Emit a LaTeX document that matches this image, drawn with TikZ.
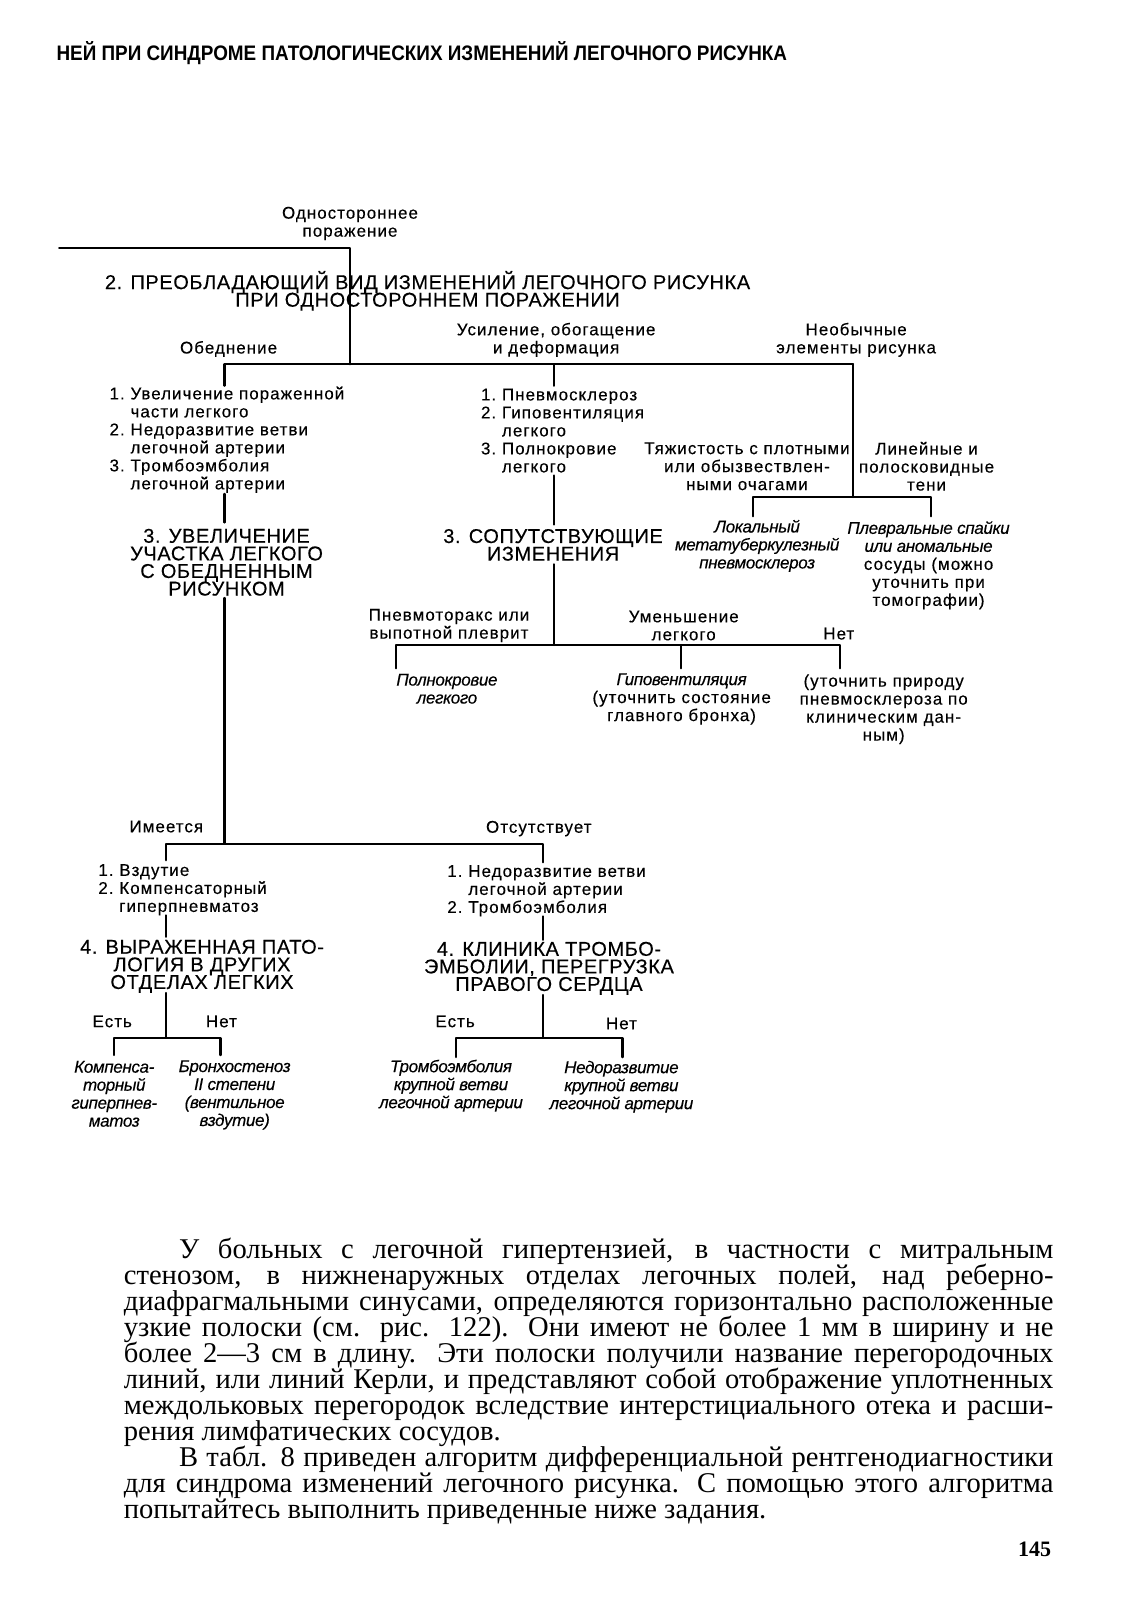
\documentclass[tikz,border=0pt]{standalone}
\usepackage{fontspec}
\setmainfont[LetterSpace=6,FakeBold=0.3,ItalicFeatures={LetterSpace=-2}]{Liberation Sans}
\newfontfamily\headfont[LetterSpace=3,FakeBold=0.3]{Liberation Sans}
\newfontfamily\runfont[FakeStretch=0.9]{Liberation Sans}
\newfontfamily\bodyfont[FakeStretch=1.0]{Liberation Serif}
\newcommand\dgfont{\fontsize{8.5}{9}\selectfont}
\newcommand\hdfont{\fontsize{10}{8.8}\headfont}
\newlength\bodyw
\setlength\bodyw{465pt}
\setlength\lineskiplimit{-20pt}
\newcommand\jline[1]{\makebox[\bodyw][s]{#1}}
\newcommand\lastjl[1]{\makebox[\bodyw][l]{#1}}

\begin{document}
\begin{tikzpicture}[x=0.5104pt,y=-0.5104pt,line cap=round,line join=round,
  ln/.style={line width=1.1pt},
  lbl/.style={font=\dgfont,align=center,inner sep=0pt},
  itl/.style={font=\dgfont\itshape,align=center,inner sep=0pt},
  lst/.style={font=\dgfont,align=left,inner sep=0pt,anchor=west},
  hd/.style={font=\hdfont,align=center,inner sep=0pt}]
\useasboundingbox (0,0) rectangle (1109,1568);

% running head
\node[font=\fontsize{10.5}{12}\runfont\bfseries,anchor=west,inner sep=0pt] (run) at (55,52) {НЕЙ ПРИ СИНДРОМЕ ПАТОЛОГИЧЕСКИХ ИЗМЕНЕНИЙ ЛЕГОЧНОГО РИСУНКА};

% junctions
\coordinate (top0) at (58,243);
\coordinate (top1) at (343,243);
\coordinate (r0) at (343,357);
\coordinate (r1) at (220,357);
\coordinate (r2) at (543,357);
\coordinate (r3) at (836,357);
\coordinate (a0) at (220,378);
\coordinate (a1) at (220,484);
\coordinate (a2) at (220,512);
\coordinate (a3) at (220,586);
\coordinate (b0) at (543,378);
\coordinate (b1) at (543,466);
\coordinate (b2) at (543,514);
\coordinate (b3) at (543,553);
\coordinate (c0) at (836,487);
\coordinate (c1) at (738,487);
\coordinate (c2) at (912,487);
\coordinate (c1d) at (738,506);
\coordinate (c2d) at (912,506);
\coordinate (e0) at (543,632);
\coordinate (e1) at (388,632);
\coordinate (e2) at (667,632);
\coordinate (e3) at (823,632);
\coordinate (e1d) at (388,655);
\coordinate (e2d) at (667,655);
\coordinate (e3d) at (823,655);
\coordinate (d0) at (220,827);
\coordinate (d1) at (163,827);
\coordinate (d2) at (532,827);
\coordinate (d1d) at (163,843);
\coordinate (d2d) at (532,845);
\coordinate (f0) at (163,897);
\coordinate (f1) at (163,918);
\coordinate (f2) at (163,973);
\coordinate (f3) at (163,1017);
\coordinate (f4) at (112,1017);
\coordinate (f5) at (216,1017);
\coordinate (f4d) at (112,1034);
\coordinate (f5d) at (216,1034);
\coordinate (g0) at (532,898);
\coordinate (g1) at (532,921);
\coordinate (g2) at (532,975);
\coordinate (g3) at (532,1017);
\coordinate (g4) at (447,1017);
\coordinate (g5) at (610,1017);
\coordinate (g4d) at (447,1036);
\coordinate (g5d) at (610,1036);

% lines
\draw[ln] (top0) -- (top1) -- (r0);
\draw[ln] (r1) -- (r3);
\draw[ln] (r1) -- (a0);
\draw[ln] (r2) -- (b0);
\draw[ln] (r3) -- (c0);
\draw[ln] (c1d) -- (c1) -- (c2) -- (c2d);
\draw[ln] (a1) -- (a2);
\draw[ln] (a3) -- (d0);
\draw[ln] (b1) -- (b2);
\draw[ln] (b3) -- (e0);
\draw[ln] (e1d) -- (e1) -- (e3) -- (e3d);
\draw[ln] (e2) -- (e2d);
\draw[ln] (d1d) -- (d1) -- (d2) -- (d2d);
\draw[ln] (f0) -- (f1);
\draw[ln] (f2) -- (f3);
\draw[ln] (f4d) -- (f4) -- (f5) -- (f5d);
\draw[ln] (g0) -- (g1);
\draw[ln] (g2) -- (g3);
\draw[ln] (g4d) -- (g4) -- (g5) -- (g5d);

% upper level
\node[lbl] (one) at (343,219) {Одностороннее\\поражение};
\node[hd] (hd2) at (419,285) {2. ПРЕОБЛАДАЮЩИЙ ВИД ИЗМЕНЕНИЙ ЛЕГОЧНОГО РИСУНКА\\ПРИ ОДНОСТОРОННЕМ ПОРАЖЕНИИ};
\node[lbl] (obed) at (224,342) {Обеднение};
\node[lbl] (usil) at (545,333) {Усиление, обогащение\\и деформация};
\node[lbl] (neob) at (839,333) {Необычные\\элементы рисунка};

% three columns
\node[lst] (lstL) at (107,431) {1.~Увеличение пораженной\\\phantom{1.~}части легкого\\2.~Недоразвитие ветви\\\phantom{2.~}легочной артерии\\3.~Тромбоэмболия\\\phantom{3.~}легочной артерии};
\node[lst] (lstM) at (471,422) {1.~Пневмосклероз\\2.~Гиповентиляция\\\phantom{2.~}легкого\\3.~Полнокровие\\\phantom{3.~}легкого};
\node[lbl] (tyazh) at (732,457) {Тяжистость с плотными\\или обызвествлен-\\ными очагами};
\node[lbl] (lin) at (908,457) {Линейные и\\полосковидные\\тени};
\node[itl] (lok) at (742,535) {Локальный\\метатуберкулезный\\пневмосклероз};
\node[lbl] (plevr) at (910,554) {{\itshape Плевральные спайки}\\{\itshape или аномальные}\\сосуды (можно\\уточнить при\\томографии)};
\node[hd] (hd3L) at (222,551) {3. УВЕЛИЧЕНИЕ\\УЧАСТКА ЛЕГКОГО\\С ОБЕДНЕННЫМ\\РИСУНКОМ};
\node[hd] (hd3M) at (542,534) {3. СОПУТСТВУЮЩИЕ\\ИЗМЕНЕНИЯ};

% concomitant changes
\node[lbl] (pnx) at (440,613) {Пневмоторакс или\\выпотной плеврит};
\node[lbl] (umen) at (670,613) {Уменьшение\\легкого};
\node[lbl] (net1) at (822,621) {Нет};
\node[itl] (polnok) at (438,675) {Полнокровие\\легкого};
\node[lbl] (gipo) at (668,685) {{\itshape Гиповентиляция}\\(уточнить состояние\\главного бронха)};
\node[lbl] (prir) at (866,695) {(уточнить природу\\пневмосклероза по\\клиническим дан-\\ным)};

% lower level
\node[lbl] (imeet) at (163,810) {Имеется};
\node[lbl] (otsut) at (528,812) {Отсутствует};
\node[lst] (lstLL) at (96,872) {1.~Вздутие\\2.~Компенсаторный\\\phantom{2.~}гиперпневматоз};
\node[lst] (lstLR) at (438,873) {1.~Недоразвитие ветви\\\phantom{1.~}легочной артерии\\2.~Тромбоэмболия};
\node[hd] (hd4L) at (198,947) {4. ВЫРАЖЕННАЯ ПАТО-\\ЛОГИЯ В ДРУГИХ\\ОТДЕЛАХ ЛЕГКИХ};
\node[hd] (hd4R) at (538,949) {4. КЛИНИКА ТРОМБО-\\ЭМБОЛИИ, ПЕРЕГРУЗКА\\ПРАВОГО СЕРДЦА};
\node[lbl] (est1) at (110,1001) {Есть};
\node[lbl] (net2) at (217,1001) {Нет};
\node[lbl] (est2) at (446,1001) {Есть};
\node[lbl] (net3) at (609,1003) {Нет};
\node[itl] (komp) at (112,1072) {Компенса-\\торный\\гиперпнев-\\матоз};
\node[itl] (bronh) at (230,1073) {Бронхостеноз\\II степени\\(вентильное\\вздутие)};
\node[itl] (tromb) at (442,1064) {Тромбоэмболия\\крупной ветви\\легочной артерии};
\node[itl] (nedor) at (609,1065) {Недоразвитие\\крупной ветви\\легочной артерии};

% page text
\node[font=\fontsize{14.3}{13}\bodyfont,align=left,inner sep=0pt,anchor=north west] (txt) at (121,1213) {%
\jline{\hspace*{27.6pt}У больных с легочной гипертензией, в частности с митральным}\\
\jline{стенозом, в нижненаружных отделах легочных полей, над реберно-}\\
\jline{диафрагмальными синусами, определяются горизонтально расположенные}\\
\jline{узкие полоски (см. рис. 122). Они имеют не более 1 мм в ширину и не}\\
\jline{более 2—3 см в длину. Эти полоски получили название перегородочных}\\
\jline{линий, или линий Керли, и представляют собой отображение уплотненных}\\
\jline{междольковых перегородок вследствие интерстициального отека и расши-}\\
\lastjl{рения лимфатических сосудов.}\\
\jline{\hspace*{27.6pt}В табл. 8 приведен алгоритм дифференциальной рентгенодиагностики}\\
\jline{для синдрома изменений легочного рисунка. С помощью этого алгоритма}\\
\lastjl{попытайтесь выполнить приведенные ниже задания.}};
\node[font=\fontsize{11}{12}\bodyfont\bfseries,inner sep=0pt] (pg) at (1014,1518) {145};
\end{tikzpicture}
\end{document}
